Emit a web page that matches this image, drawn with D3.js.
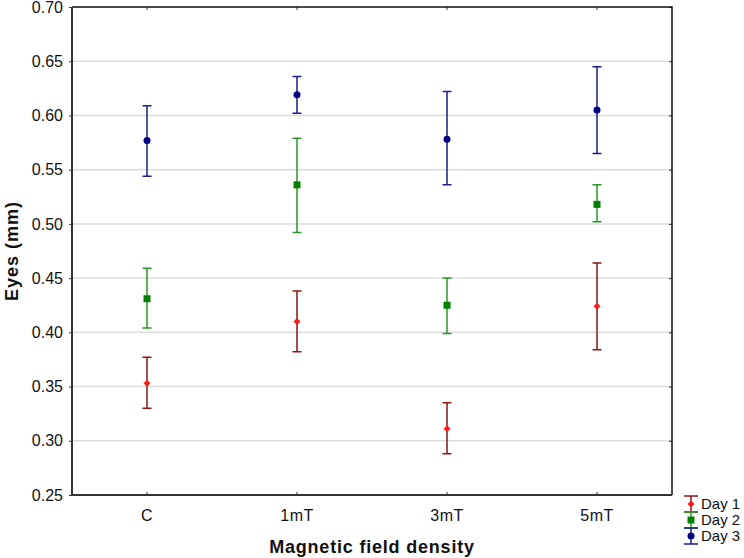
<!DOCTYPE html>
<html>
<head>
<meta charset="utf-8">
<script src="https://cdn.jsdelivr.net/npm/d3@7"></script>
<style>
  body { margin: 0; background: #fff; }
  text { font-family: Arial, "Liberation Sans", sans-serif; }
</style>
</head>
<body>
<svg width="744" height="558"></svg>
<script>
// categories and series (mean, upper, lower)
var groups = ["C", "1mT", "3mT", "5mT"]
var yTicks = [0.25, 0.30, 0.35, 0.40, 0.45, 0.50, 0.55, 0.60, 0.65, 0.70]

var day1Mean = [0.353, 0.410, 0.311, 0.424]
var day1Hi   = [0.377, 0.438, 0.335, 0.464]
var day1Lo   = [0.330, 0.382, 0.288, 0.384]

var day2Mean = [0.431, 0.536, 0.425, 0.518]
var day2Hi   = [0.459, 0.579, 0.450, 0.536]
var day2Lo   = [0.404, 0.492, 0.399, 0.502]

var day3Mean = [0.577, 0.619, 0.578, 0.605]
var day3Hi   = [0.609, 0.636, 0.622, 0.645]
var day3Lo   = [0.544, 0.602, 0.536, 0.565]

var seriesNames = ["Day 1", "Day 2", "Day 3"]

margin = ({top: 7, right: 72, bottom: 63, left: 72})
var width = 744, height = 558

var svg = d3.select("svg")

var x = d3.scaleBand()
  .domain(groups)
  .range([margin.left, width - margin.right])

var y = d3.scaleLinear()
  .domain([0.25, 0.70])
  .range([height - margin.bottom, margin.top])

var series = [
  {name: seriesNames[0], mean: day1Mean, hi: day1Hi, lo: day1Lo, line: "#8b1616", fill: "#ff1a1a", shape: "diamond"},
  {name: seriesNames[1], mean: day2Mean, hi: day2Hi, lo: day2Lo, line: "#2a962a", fill: "#008000", shape: "square"},
  {name: seriesNames[2], mean: day3Mean, hi: day3Hi, lo: day3Lo, line: "#1c1c8c", fill: "#000080", shape: "circle"}
]

// grid lines
svg.append("g")
  .selectAll("line")
  .data(yTicks.slice(1, -1))
  .join("line")
  .attr("x1", margin.left)
  .attr("x2", width - margin.right)
  .attr("y1", d => y(d))
  .attr("y2", d => y(d))
  .attr("stroke", "#dcdcdc")
  .attr("stroke-width", 1.5)

// y axis
yAxis = g => g
  .attr("transform", `translate(${margin.left},0)`)
  .call(d3.axisLeft(y).tickValues(yTicks).tickFormat(d3.format(".2f")).tickSize(3).tickPadding(6))
  .call(g => g.select(".domain").remove())
  .call(g => g.selectAll("text").attr("font-size", 16).attr("fill", "#111"))
  .call(g => g.selectAll("line").attr("stroke", "#333"))
svg.append("g").call(yAxis)

// right ticks
svg.append("g")
  .attr("transform", `translate(${width - margin.right},0)`)
  .call(d3.axisLeft(y).tickValues(yTicks).tickFormat("").tickSize(3))
  .call(g => g.select(".domain").remove())
  .call(g => g.selectAll("line").attr("stroke", "#333"))

// x axis
xAxis = g => g
  .attr("transform", `translate(0,${height - margin.bottom})`)
  .call(d3.axisTop(x).tickSize(3).tickPadding(-29))
  .call(g => g.select(".domain").remove())
  .call(g => g.selectAll("text").attr("font-size", 16).attr("letter-spacing", 0.5).attr("fill", "#111"))
  .call(g => g.selectAll("line").attr("stroke", "#333"))
svg.append("g").call(xAxis)

svg.append("g")
  .attr("transform", `translate(0,${margin.top})`)
  .call(d3.axisBottom(x).tickSize(3).tickFormat(""))
  .call(g => g.select(".domain").remove())
  .call(g => g.selectAll("line").attr("stroke", "#333"))

// frame
var x0 = margin.left, x1 = width - margin.right, y0 = margin.top, y1 = height - margin.bottom
svg.append("path")
  .attr("d", `M${x0},${y0}H${x1}V${y1}`)
  .attr("fill", "none").attr("stroke", "#111").attr("stroke-width", 1.5)
svg.append("path")
  .attr("d", `M${x0},${y0}V${y1}H${x1}`)
  .attr("fill", "none").attr("stroke", "#333").attr("stroke-width", 2)

var capW = 4.5

function drawMarker(g, s, cx, cy) {
  if (s.shape == "square") {
    g.append("rect").attr("x", cx - 3.5).attr("y", cy - 3.5).attr("width", 7).attr("height", 7).attr("fill", s.fill)
  } else if (s.shape == "circle") {
    g.append("circle").attr("cx", cx).attr("cy", cy).attr("r", 3.5).attr("fill", s.fill)
  } else {
    g.append("path").attr("d", `M${cx},${cy - 3.5}L${cx + 3.5},${cy}L${cx},${cy + 3.5}L${cx - 3.5},${cy}Z`).attr("fill", s.fill)
  }
}

// error bars
series.forEach(function(s) {
  var g = svg.append("g")
  groups.forEach(function(c, i) {
    var cx = x(c) + x.bandwidth() / 2
    g.append("path")
      .attr("d", `M${cx - capW},${y(s.hi[i])}H${cx + capW}M${cx},${y(s.hi[i])}V${y(s.lo[i])}M${cx - capW},${y(s.lo[i])}H${cx + capW}`)
      .attr("fill", "none").attr("stroke", s.line).attr("stroke-width", 1.5)
    drawMarker(g, s, cx, y(s.mean[i]))
  })
})

// legend
var legend = svg.append("g")
series.forEach(function(s, i) {
  var cy = 504 + i * 16
  var cx = 691
  var g = legend.append("g")
  g.append("path")
    .attr("d", `M${cx - 7},${cy - 8}H${cx + 7}M${cx},${cy - 8}V${cy + 8}M${cx - 7},${cy + 8}H${cx + 7}`)
    .attr("fill", "none").attr("stroke", s.line).attr("stroke-width", 1.5)
  drawMarker(g, s, cx, cy)
  g.append("text")
    .attr("x", 701).attr("y", cy + 5)
    .attr("font-size", 15).attr("fill", "#111")
    .text(s.name)
})

// titles
svg.append("text")
  .attr("x", (x0 + x1) / 2).attr("y", 553)
  .attr("text-anchor", "middle")
  .attr("font-size", 18).attr("font-weight", "bold").attr("letter-spacing", 0.8).attr("fill", "#111")
  .text("Magnetic field density")

svg.append("text")
  .attr("transform", `translate(18,${(y0 + y1) / 2}) rotate(-90)`)
  .attr("text-anchor", "middle")
  .attr("font-size", 18).attr("font-weight", "bold").attr("letter-spacing", 1).attr("fill", "#111")
  .text("Eyes (mm)")
</script>
</body>
</html>
